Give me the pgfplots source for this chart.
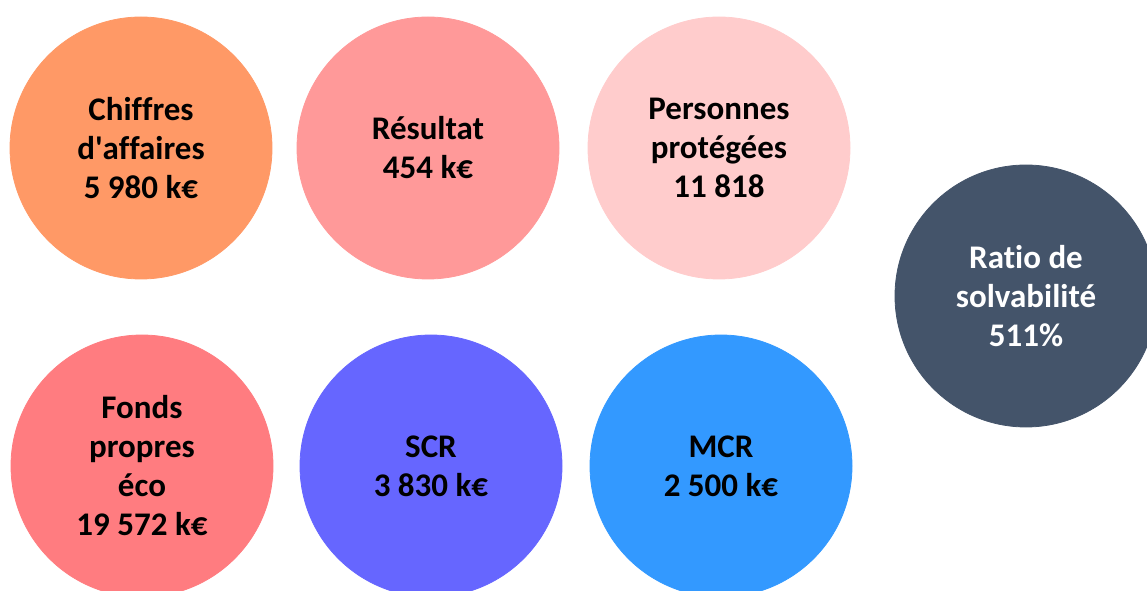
\documentclass[border=0pt]{standalone}
\usepackage{pgfplots}
\pgfplotsset{compat=1.18}
\usepackage{fontspec}
\setmainfont{Carlito}[Ligatures={NoCommon}]
\definecolor{cOrange}{HTML}{FF9966}
\definecolor{cRes}{HTML}{FF9999}
\definecolor{cPers}{HTML}{FFCCCC}
\definecolor{cDark}{HTML}{44546A}
\definecolor{cFonds}{HTML}{FF7C80}
\definecolor{cSCR}{HTML}{6666FF}
\definecolor{cMCR}{HTML}{3399FF}
\begin{document}
\begin{tikzpicture}
\begin{axis}[
  width=573.5pt, height=295pt, scale only axis,
  xmin=0, xmax=1147, ymin=0, ymax=590,
  hide axis, clip=true, clip marker paths=true,
  only marks, mark=*, mark size=65.5pt,
  nodes near coords align={center},
  every node near coord/.style={anchor=center, align=center,
    font=\fontsize{16.5pt}{19.5pt}\selectfont\bfseries, text=black},
]
% ligne du haut
\addplot[color=cOrange, mark options={fill=cOrange},
  nodes near coords={Chiffres\\d\textquotesingle affaires\\5~980 k€}] coordinates {(141,442)};
\addplot[color=cRes, mark options={fill=cRes},
  nodes near coords={Résultat\\454 k€}] coordinates {(428,442)};
\addplot[color=cPers, mark options={fill=cPers},
  nodes near coords={Personnes\\protégées\\11~818}] coordinates {(719,442)};
% ratio
\addplot[color=cDark, mark options={fill=cDark},
  nodes near coords={Ratio de\\solvabilité\\511\%},
  every node near coord/.append style={text=white}] coordinates {(1026,294)};
% ligne du bas
\addplot[color=cFonds, mark options={fill=cFonds},
  nodes near coords={Fonds\\propres\\éco\\19~572 k€}] coordinates {(142,124)};
\addplot[color=cSCR, mark options={fill=cSCR},
  nodes near coords={SCR\\3~830 k€}] coordinates {(431,124)};
\addplot[color=cMCR, mark options={fill=cMCR},
  nodes near coords={MCR\\2~500 k€}] coordinates {(721,124)};
\end{axis}
\pgfresetboundingbox
\useasboundingbox (current axis.south west) rectangle (current axis.north east);
\end{tikzpicture}
\end{document}
